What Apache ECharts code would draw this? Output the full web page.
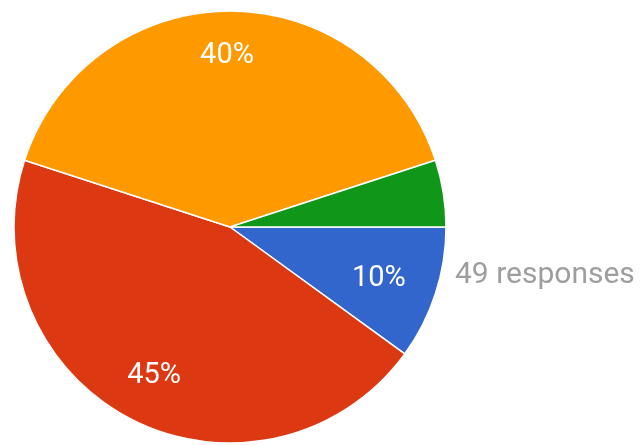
<!DOCTYPE html>
<html>
<head>
<meta charset="utf-8">
<script src="https://cdn.jsdelivr.net/npm/echarts@6/dist/echarts.min.js"></script>
<style>
html,body{margin:0;padding:0;background:#fff;}
#chart{width:644px;height:445px;}
</style>
</head>
<body>
<div id="chart"></div>
<script>
const categories = ['Option 1', 'Option 2', 'Option 3', 'Option 4'];
const percents = [10, 45, 40, 5];
const colors = ['#3366cc', '#dc3912', '#ff9900', '#109618'];
const showLabel = [true, true, true, false];
const totalText = '49 responses';

const chart = echarts.init(document.getElementById('chart'), null, {renderer: 'canvas'});
const center = [230, 227];
const R = 216;
// small style nudges of the label text inside each slice
const labelStyleNudge = [[-10, 0], [0, 0], [-3, -4], [0, 0]];

const baseData = categories.map((c, i) => ({
  name: c, value: percents[i], itemStyle: {color: colors[i]}
}));
const labelData = categories.map((c, i) => ({
  name: c, value: percents[i], label: {show: showLabel[i], offset: labelStyleNudge[i]}
}));

chart.setOption({
  animation: false,
  series: [
    {
      type: 'pie', center: center, radius: [0, R], startAngle: 0, clockwise: true,
      silent: true,
      itemStyle: {borderColor: '#ffffff', borderWidth: 1.5},
      label: {show: false}, labelLine: {show: false},
      data: baseData
    },
    {
      type: 'pie', center: center, radius: [112, R], startAngle: 0, clockwise: true,
      silent: true,
      itemStyle: {color: 'rgba(0,0,0,0)', borderWidth: 0},
      label: {
        show: true, position: 'inside', formatter: '{c}%',
        color: '#ffffff', fontSize: 29, fontFamily: 'Roboto'
      },
      labelLine: {show: false},
      data: labelData
    }
  ],
  graphic: [{
    type: 'text', left: 455, top: 260,
    style: {text: totalText, fill: '#9e9e9e', fontSize: 30, fontFamily: 'Roboto'}
  }]
});
</script>
</body>
</html>
